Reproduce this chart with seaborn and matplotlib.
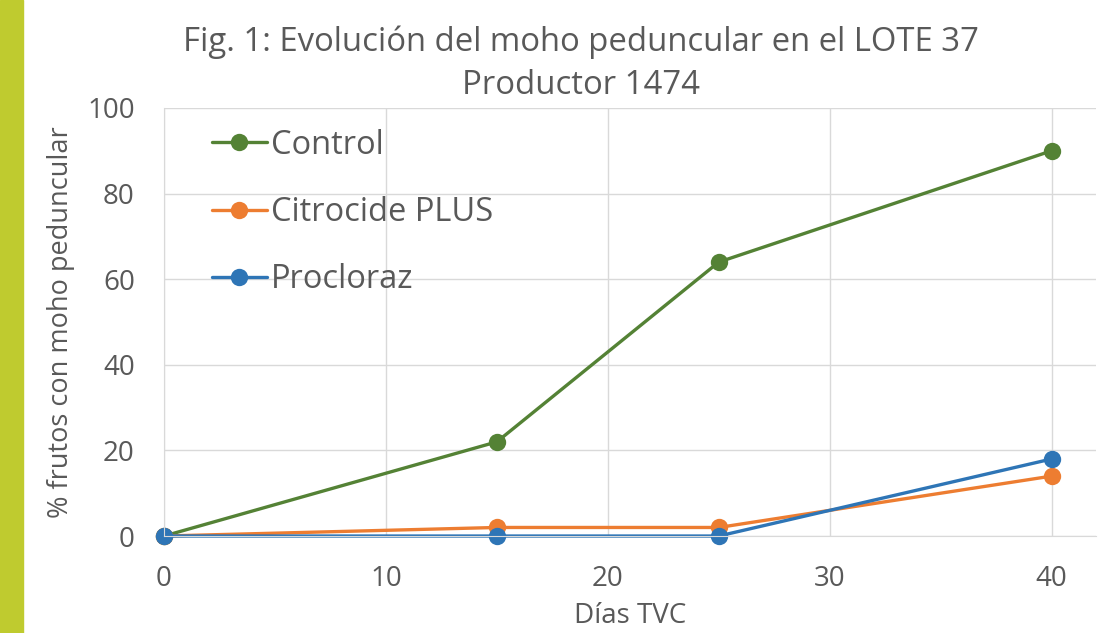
import pandas as pd
import matplotlib.pyplot as plt
import seaborn as sns

# Data
dias = [0, 15, 25, 40]
control = [0, 22, 64, 90]
citrocide = [0, 2, 2, 14]
procloraz = [0, 0, 0, 18]
series_names = ["Control", "Citrocide PLUS", "Procloraz"]
colors = ["#548235", "#ED7D31", "#2E75B6"]

df = pd.DataFrame({
    "dias": dias * 3,
    "valor": control + citrocide + procloraz,
    "serie": [series_names[0]] * 4 + [series_names[1]] * 4 + [series_names[2]] * 4,
})

sns.set_style("white")
plt.rcParams["font.family"] = ["Open Sans", "DejaVu Sans"]
text_color = "#595959"

fig = plt.figure(figsize=(11.11, 6.33), dpi=100)
fig.patch.set_facecolor("white")
# green band at the left edge
fig.patches.append(plt.Rectangle((0, 0), 0.0207, 1, transform=fig.transFigure,
                                 color="#BFCB2F", zorder=0))

ax = fig.add_axes([0.1476, 0.1532, 0.8389, 0.6762])
sns.lineplot(data=df, x="dias", y="valor", hue="serie", palette=colors,
             marker="o", markersize=12.5, markeredgewidth=0, linewidth=2.4,
             ax=ax, clip_on=False)

ax.set_xlim(0, 42)
ax.set_ylim(0, 100)
ax.set_xticks([0, 10, 20, 30, 40])
ax.set_yticks([0, 20, 40, 60, 80, 100])
ax.grid(True, color="#D9D9D9", linewidth=1)
for side in ["top", "right"]:
    ax.spines[side].set_visible(False)
for side in ["left", "bottom"]:
    ax.spines[side].set_color("#D9D9D9")
ax.tick_params(axis="both", labelsize=20, colors=text_color, length=0, pad=21)

ax.set_xlabel("Días TVC", fontsize=20, color=text_color, labelpad=6)
ax.set_ylabel("% frutos con moho peduncular", fontsize=19.5, color=text_color, labelpad=9)
ax.set_title("Fig. 1: Evolución del moho peduncular en el LOTE 37\nProductor 1474",
             fontsize=23.7, color=text_color, pad=10, linespacing=1.42, x=0.447)

leg = ax.legend(loc="upper left", bbox_to_anchor=(0.0195, 1.02), frameon=False,
                fontsize=23.5, handlelength=1.7, labelspacing=1.05, handletextpad=0.12)
for t in leg.get_texts():
    t.set_color(text_color)

fig.savefig("out.png", dpi=100)
